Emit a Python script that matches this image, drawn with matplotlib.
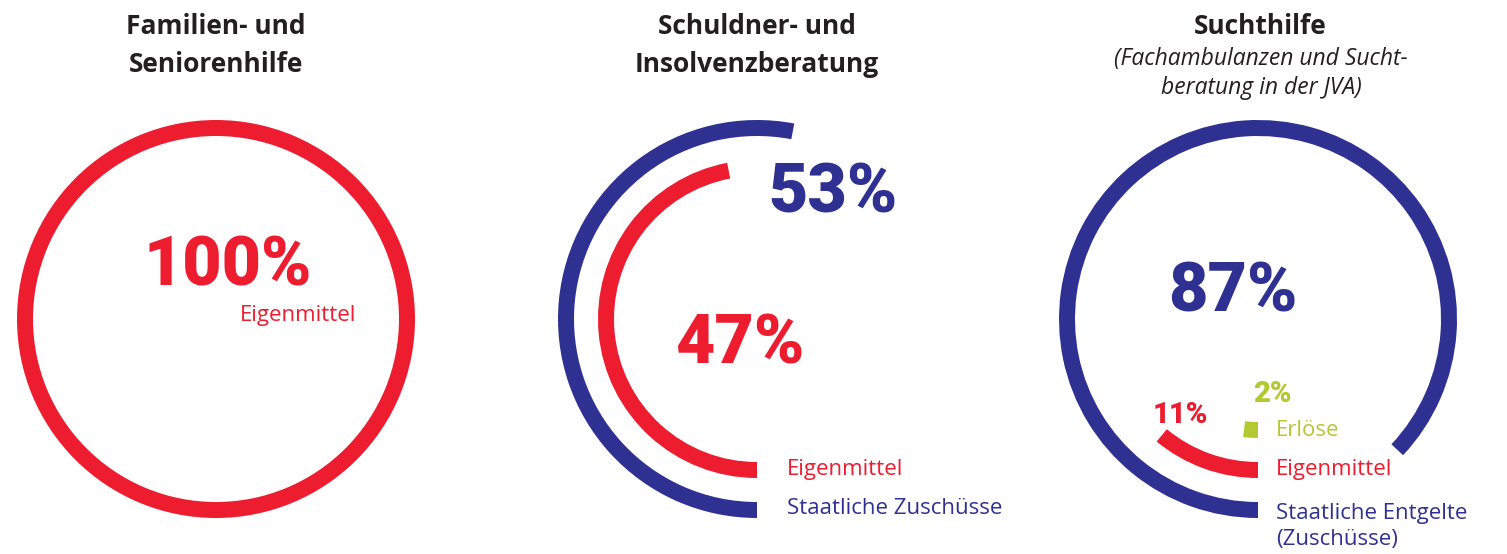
import numpy as np
import matplotlib
matplotlib.use("Agg")
import matplotlib.pyplot as plt

RED = "#ED1C2E"
BLUE = "#2E3192"
GREEN = "#B2C932"
DARK = "#231F20"

# data
fam_labels = ["Eigenmittel"]
fam_values = [100]
fam_colors = [RED]

schuld_labels = ["Eigenmittel", "Staatliche Zuschüsse"]
schuld_values = [47, 53]
schuld_colors = [RED, BLUE]

sucht_labels = ["Erlöse", "Eigenmittel", "Staatliche Entgelte\n(Zuschüsse)"]
sucht_values = [2, 11, 87]
sucht_colors = [GREEN, RED, BLUE]

W, H = 1507, 554
fig = plt.figure(figsize=(W / 100, H / 100), dpi=100)

LABEL_FONT = "Open Sans"
TITLE_FONT = "Open Sans"
NUM_FONT = "Roboto"
NUM_W = 900


def px(x, y):
    # pixel (from top-left) -> figure fraction
    return x / W, 1 - y / H


def ring_axes(cx, cy, rmax=200):
    l, b = px(cx - rmax, cy + rmax)
    ax = fig.add_axes([l, b, 2 * rmax / W, 2 * rmax / H], projection="polar")
    ax.set_theta_zero_location("S")
    ax.set_theta_direction(-1)
    ax.set_ylim(0, rmax)
    ax.axis("off")
    return ax


def draw_rings(ax, values, colors, radii, band=16):
    for v, c, r in zip(values, colors, radii):
        ax.barh(r, 2 * np.pi * v / 100, left=0, height=band, color=c,
                linewidth=0, align="center")


def text(x, y, s, **kw):
    fig.text(*px(x, y), s, **kw)


def title(x, y, s):
    text(x, y, s, ha="center", va="center", fontsize=19, fontweight="bold",
         family=TITLE_FONT, color=DARK)


def label(x, y, s, c):
    text(x, y, s, ha="left", va="center", fontsize=16, family=LABEL_FONT,
         color=c)


def big(x, y, s, c, size=49):
    text(x, y, s, ha="center", va="center", fontsize=size, fontweight=NUM_W,
         family=NUM_FONT, color=c)


# --- chart 1
ax1 = ring_axes(216, 319)
draw_rings(ax1, fam_values, fam_colors, [191])
title(216, 27, "Familien- und")
title(216, 65, "Seniorenhilfe")
big(228, 267, f"{fam_values[0]}%", RED)
label(240, 315, fam_labels[0], RED)

# --- chart 2
ax2 = ring_axes(757, 319)
draw_rings(ax2, schuld_values, schuld_colors, [151, 191])
title(757, 27, "Schuldner- und")
title(757, 65, "Insolvenzberatung")
big(833, 194, f"{schuld_values[1]}%", BLUE)
big(740, 345, f"{schuld_values[0]}%", RED)
label(787, 469, schuld_labels[0], RED)
label(787, 509, schuld_labels[1], BLUE)

# --- chart 3
ax3 = ring_axes(1258, 319)
draw_rings(ax3, sucht_values, sucht_colors, [111, 151, 191])
title(1260, 27, "Suchthilfe")
text(1261, 59, "(Fachambulanzen und Sucht-", ha="center", va="center",
     fontsize=16.5, style="italic", family=LABEL_FONT, color=DARK)
text(1261, 88, "beratung in der JVA)", ha="center", va="center",
     fontsize=16.5, style="italic", family=LABEL_FONT, color=DARK)
big(1233, 293, f"{sucht_values[2]}%", BLUE)
big(1272, 394, f"{sucht_values[0]}%", GREEN, size=21)
big(1180, 415, f"{sucht_values[1]}%", RED, size=21)
label(1276, 431, sucht_labels[0], GREEN)
label(1276, 470, sucht_labels[1], RED)
ent, zus = sucht_labels[2].split("\n")
label(1276, 513, ent, BLUE)
label(1276, 540, zus, BLUE)

fig.savefig("out.png", dpi=100)
